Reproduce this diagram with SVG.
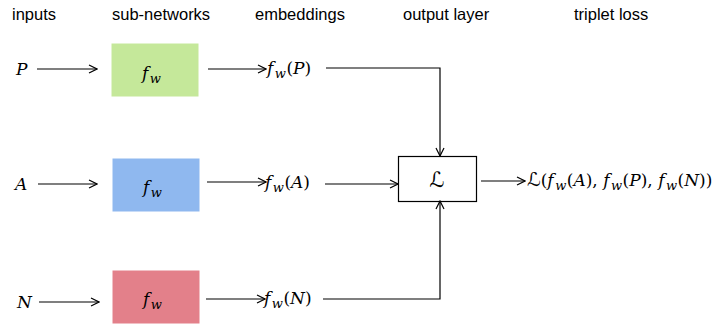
<svg xmlns="http://www.w3.org/2000/svg" width="718" height="325" viewBox="0 0 718 325">
<defs>
<marker id="ah" markerWidth="10" markerHeight="10" refX="9" refY="5" orient="auto" markerUnits="userSpaceOnUse">
<path d="M1,1 L9,5 L1,9" fill="none" stroke="#000" stroke-width="1.2"/>
</marker>
</defs>
<style>
.hd{font-family:"Liberation Sans",Arial,sans-serif;font-size:16.5px;fill:#000}
.m{font-family:"DejaVu Serif","Liberation Serif",serif;font-size:17px;fill:#000}
.i{font-style:italic}
.sub{font-size:13px;font-style:italic}
.L{font-family:"DejaVu Sans","Noto Sans",sans-serif;font-size:19px;font-style:normal}
.LB{font-size:21px}
.ln{fill:none;stroke:#000;stroke-width:1.2}
.box{stroke:#fff;stroke-width:1}
</style>
<rect width="718" height="325" fill="#fff"/>
<g id="headers">
<text class="hd" x="12" y="20">inputs</text>
<text class="hd" x="112" y="20">sub-networks</text>
<text class="hd" x="255" y="20">embeddings</text>
<text class="hd" x="403" y="20">output layer</text>
<text class="hd" x="574" y="20">triplet loss</text>
</g>
<g id="input-P"><text class="m i" x="16" y="75">P</text></g>
<g id="input-A"><text class="m i" x="15" y="190">A</text></g>
<g id="input-N"><text class="m i" x="17" y="308">N</text></g>
<g id="net-P">
<rect class="box" x="111" y="43" width="88" height="54" fill="#c5e89a"/>
<text class="m" x="142" y="79"><tspan class="i">f</tspan><tspan class="sub" dx="1.5" dy="4">w</tspan></text>
</g>
<g id="net-A">
<rect class="box" x="112" y="158" width="88" height="54" fill="#8fb8ef"/>
<text class="m" x="143" y="193"><tspan class="i">f</tspan><tspan class="sub" dx="1.5" dy="4">w</tspan></text>
</g>
<g id="net-N">
<rect class="box" x="112" y="270" width="88" height="54" fill="#e3808a"/>
<text class="m" x="143" y="305"><tspan class="i">f</tspan><tspan class="sub" dx="1.5" dy="4">w</tspan></text>
</g>
<g id="emb-P"><text class="m" x="267" y="74"><tspan class="i">f</tspan><tspan class="sub" dx="1.5" dy="4">w</tspan><tspan dy="-4" dx="0.5">(</tspan><tspan class="i">P</tspan>)</text></g>
<g id="emb-A"><text class="m" x="265" y="188"><tspan class="i">f</tspan><tspan class="sub" dx="1.5" dy="4">w</tspan><tspan dy="-4" dx="0.5">(</tspan><tspan class="i">A</tspan>)</text></g>
<g id="emb-N"><text class="m" x="264" y="304"><tspan class="i">f</tspan><tspan class="sub" dx="1.5" dy="4">w</tspan><tspan dy="-4" dx="0.5">(</tspan><tspan class="i">N</tspan>)</text></g>
<g id="loss">
<rect x="398.5" y="156.5" width="78" height="45" fill="#fff" stroke="#000" stroke-width="1.2"/>
<text class="m L LB" x="437" y="187" text-anchor="middle">ℒ</text>
</g>
<g id="result"><text class="m" x="527" y="186"><tspan class="L">ℒ</tspan>(<tspan class="i">f</tspan><tspan class="sub" dx="1.5" dy="4">w</tspan><tspan dy="-4" dx="0.5">(</tspan><tspan class="i">A</tspan>), <tspan class="i">f</tspan><tspan class="sub" dx="1.5" dy="4">w</tspan><tspan dy="-4" dx="0.5">(</tspan><tspan class="i">P</tspan>), <tspan class="i">f</tspan><tspan class="sub" dx="1.5" dy="4">w</tspan><tspan dy="-4" dx="0.5">(</tspan><tspan class="i">N</tspan>))</text></g>
<g id="connectors">
<path class="ln" d="M37,69 H97" marker-end="url(#ah)"/>
<path class="ln" d="M38,184 H97" marker-end="url(#ah)"/>
<path class="ln" d="M39,302 H99" marker-end="url(#ah)"/>
<path class="ln" d="M208,69 H266" marker-end="url(#ah)"/>
<path class="ln" d="M207,182 H266" marker-end="url(#ah)"/>
<path class="ln" d="M206,299 H265" marker-end="url(#ah)"/>
<path class="ln" d="M326,68 H440 V156" marker-end="url(#ah)"/>
<path class="ln" d="M325,184 H398" marker-end="url(#ah)"/>
<path class="ln" d="M323,299 H440 V201" marker-end="url(#ah)"/>
<path class="ln" d="M481,181 H525" marker-end="url(#ah)"/>
</g>
</svg>
